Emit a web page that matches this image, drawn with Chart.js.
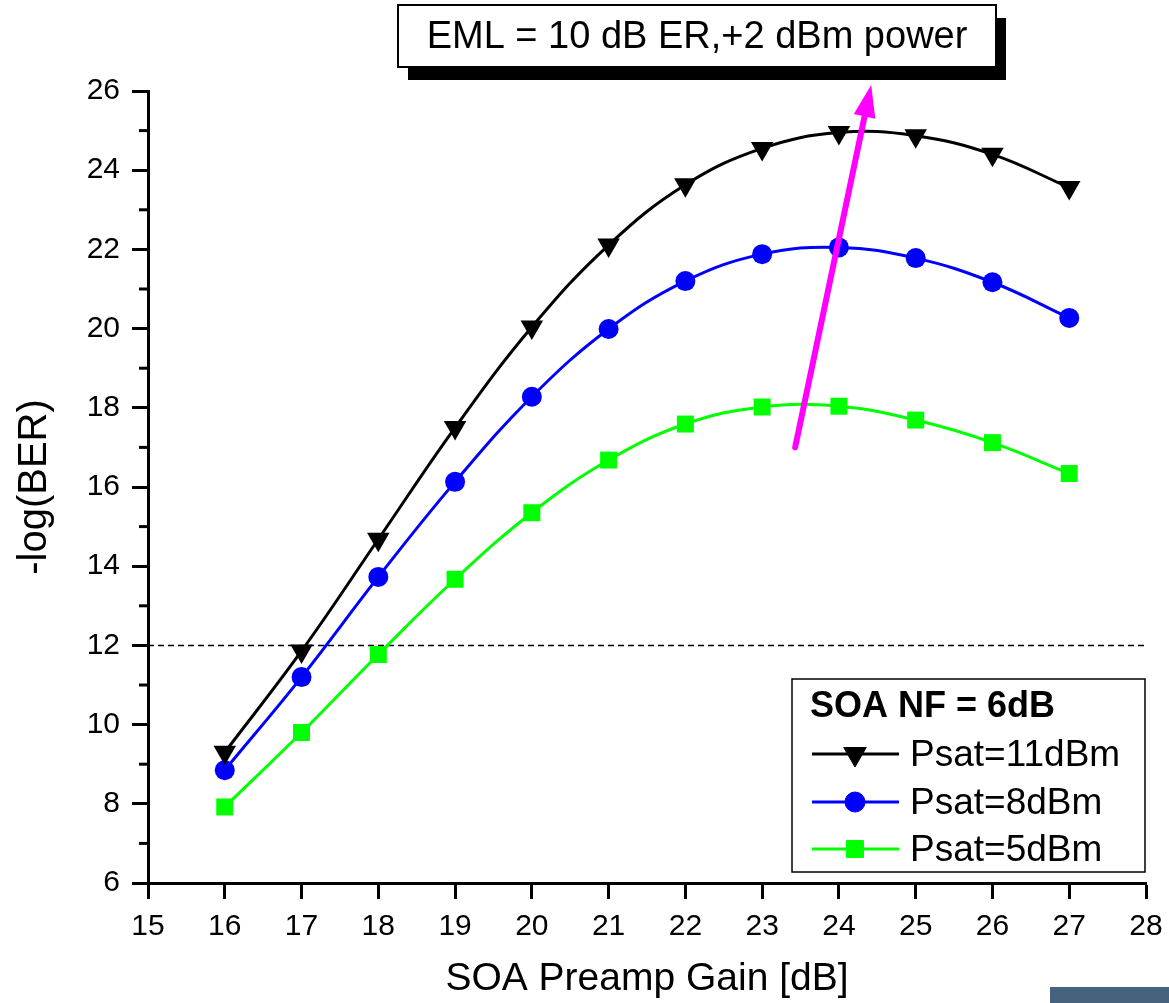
<!DOCTYPE html>
<html><head><meta charset="utf-8">
<script src="https://cdn.jsdelivr.net/npm/chart.js@4.4.1/dist/chart.umd.min.js"></script>
<style>
html,body{margin:0;padding:0;background:#fff;}
#wrap{position:relative;width:1169px;height:1003px;overflow:hidden;}
canvas{display:block;}
#corner{position:absolute;left:1050px;top:987px;width:119px;height:16px;background:#46637d;}
</style>
</head><body>
<div id="wrap"><canvas id="c" width="1169" height="1003"></canvas><div id="corner"></div></div>
<script>
// ---- data ----
const gains = [16, 17, 18, 19, 20, 21, 22, 23, 24, 25, 26, 27];
const psat11 = [9.30, 11.86, 14.68, 17.50, 20.04, 22.11, 23.63, 24.55, 24.95, 24.87, 24.40, 23.56];
const psat8  = [8.85, 11.20, 13.73, 16.13, 18.28, 19.99, 21.20, 21.88, 22.05, 21.78, 21.17, 20.27];
const psat5  = [7.92, 9.80, 11.77, 13.67, 15.35, 16.68, 17.59, 18.02, 18.04, 17.69, 17.12, 16.34];
const seriesLabels = ['Psat=11dBm', 'Psat=8dBm', 'Psat=5dBm'];
const legendTitle = 'SOA NF = 6dB';
const boxTitle = 'EML = 10 dB ER,+2 dBm power';
const xTitle = 'SOA Preamp Gain [dB]';
const yTitle = '-log(BER)';
const thresholdBER = 12;
const xRange = [15, 28];
const yRange = [6, 26];
const arrowFrom = [23.43, 17.0];
const arrowTo = [24.42, 26.15];

const toXY = arr => gains.map((g, i) => ({x: g, y: arr[i]}));

const annotations = {
  id: 'annotations',
  afterDraw(chart) {
    const ctx = chart.ctx;
    const xs = chart.scales.x, ys = chart.scales.y;
    ctx.save();
    // minor ticks on y axis
    ctx.strokeStyle = '#000'; ctx.lineWidth = 3;
    const ax = chart.chartArea.left;
    for (let v = yRange[0] + 1; v < yRange[1]; v += 2) {
      const py = ys.getPixelForValue(v);
      ctx.beginPath(); ctx.moveTo(ax - 9, py); ctx.lineTo(ax, py); ctx.stroke();
    }
    // arrow
    const x1 = xs.getPixelForValue(arrowFrom[0]), y1 = ys.getPixelForValue(arrowFrom[1]);
    const x2 = xs.getPixelForValue(arrowTo[0]), y2 = ys.getPixelForValue(arrowTo[1]);
    const ang = Math.atan2(y2 - y1, x2 - x1);
    const hl = 32, hw = 11;
    const bx = x2 - hl * Math.cos(ang), by = y2 - hl * Math.sin(ang);
    ctx.strokeStyle = '#ff00ff'; ctx.fillStyle = '#ff00ff'; ctx.lineWidth = 6; ctx.lineCap = 'round';
    ctx.beginPath(); ctx.moveTo(x1, y1); ctx.lineTo(bx + 4 * Math.cos(ang), by + 4 * Math.sin(ang)); ctx.stroke();
    ctx.beginPath();
    ctx.moveTo(x2, y2);
    ctx.lineTo(bx + hw * Math.sin(ang), by - hw * Math.cos(ang));
    ctx.lineTo(bx - hw * Math.sin(ang), by + hw * Math.cos(ang));
    ctx.closePath(); ctx.fill();
    // title box with shadow
    ctx.lineCap = 'butt';
    ctx.fillStyle = '#000';
    ctx.fillRect(408, 18, 598, 62);
    ctx.fillStyle = '#fff';
    ctx.fillRect(398, 5, 598, 62);
    ctx.strokeStyle = '#000'; ctx.lineWidth = 2;
    ctx.strokeRect(398, 5, 598, 62);
    ctx.fillStyle = '#000';
    ctx.font = '38px "Liberation Sans", Arial, sans-serif';
    ctx.textAlign = 'center'; ctx.textBaseline = 'middle';
    ctx.fillText(boxTitle, 697, 38);
    // legend
    ctx.fillStyle = '#fff';
    ctx.fillRect(792, 679, 353, 193);
    ctx.strokeStyle = '#000'; ctx.lineWidth = 1.5;
    ctx.strokeRect(792, 679, 353, 193);
    ctx.fillStyle = '#000';
    ctx.textAlign = 'left';
    ctx.font = 'bold 36px "Liberation Sans", Arial, sans-serif';
    ctx.fillText(legendTitle, 810, 707);
    const rows = [754, 802, 849];
    chart.data.datasets.slice(0, 3).forEach((ds, i) => {
      const y = rows[i];
      ctx.strokeStyle = ds.borderColor; ctx.lineWidth = ds.borderWidth;
      ctx.beginPath(); ctx.moveTo(812, y); ctx.lineTo(899, y); ctx.stroke();
      ctx.fillStyle = ds.pointBackgroundColor;
      ctx.strokeStyle = ds.pointBackgroundColor; ctx.lineWidth = 1;
      Chart.helpers.drawPoint(ctx, {pointStyle: ds.pointStyle, radius: ds.pointRadius, rotation: ds.pointRotation || 0, borderWidth: 1}, 855, y);
      ctx.fillStyle = '#000';
      ctx.font = '37px "Liberation Sans", Arial, sans-serif';
      ctx.fillText(ds.label, 910, y + 2);
    });
    ctx.restore();
  }
};

new Chart(document.getElementById('c'), {
  type: 'line',
  data: {
    datasets: [
      {label: seriesLabels[0], data: toXY(psat11), borderColor: '#000000', pointBackgroundColor: '#000000', pointBorderColor: '#000000',
       borderWidth: 3, pointStyle: 'triangle', pointRotation: 180, pointRadius: 13, pointBorderWidth: 0, tension: 0.4},
      {label: seriesLabels[1], data: toXY(psat8), borderColor: '#0000ff', pointBackgroundColor: '#0000ff', pointBorderColor: '#0000ff',
       borderWidth: 3, pointStyle: 'circle', pointRadius: 10, pointBorderWidth: 0, tension: 0.4},
      {label: seriesLabels[2], data: toXY(psat5), borderColor: '#00ff00', pointBackgroundColor: '#00ff00', pointBorderColor: '#00ff00',
       borderWidth: 3, pointStyle: 'rect', pointRadius: 12, pointBorderWidth: 0, tension: 0.4},
      {label: 'threshold', data: xRange.map(x => ({x: x, y: thresholdBER})), borderColor: '#000', borderWidth: 1.5,
       borderDash: [6, 4], pointRadius: 0, tension: 0}
    ]
  },
  options: {
    responsive: false, animation: false, devicePixelRatio: 1,
    layout: {padding: {top: 91, right: 23, left: 0, bottom: 0}},
    plugins: {legend: {display: false}, tooltip: {enabled: false}, title: {display: false}},
    scales: {
      x: {
        type: 'linear', min: xRange[0], max: xRange[1],
        afterFit: s => { s.height = 120; s.paddingRight = 0; s.paddingLeft = 0; },
        ticks: {stepSize: 1, color: '#000', padding: 10, maxRotation: 0,
                font: {family: '"Liberation Sans", Arial', size: 30}},
        grid: {drawOnChartArea: false, drawTicks: true, tickLength: 16, tickWidth: 3, tickColor: '#000', color: '#000'},
        border: {display: true, color: '#000', width: 3},
        title: {display: true, text: xTitle, color: '#000', padding: {top: 0, bottom: 0},
                font: {family: '"Liberation Sans", Arial', size: 39}}
      },
      y: {
        min: yRange[0], max: yRange[1],
        afterFit: s => { s.width = 148; s.paddingTop = 0; s.paddingBottom = 0; },
        ticks: {stepSize: 2, color: '#000', padding: 12,
                font: {family: '"Liberation Sans", Arial', size: 30}},
        grid: {drawOnChartArea: false, drawTicks: true, tickLength: 16, tickWidth: 3, tickColor: '#000', color: '#000'},
        border: {display: true, color: '#000', width: 3},
        title: {display: true, text: yTitle, color: '#000', padding: {top: 11, bottom: 0},
                font: {family: '"Liberation Sans", Arial', size: 40}}
      }
    }
  },
  plugins: [annotations]
});
</script>
</body></html>
